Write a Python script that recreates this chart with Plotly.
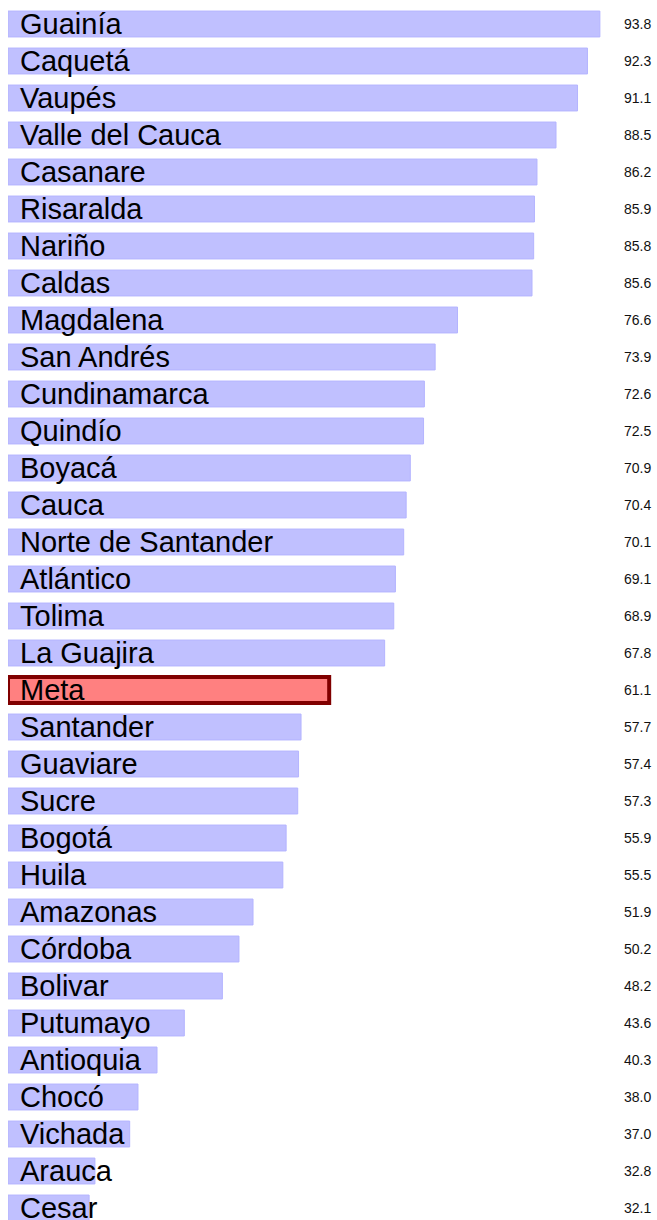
import plotly.graph_objects as go

departments = ["Guainía", "Caquetá", "Vaupés", "Valle del Cauca", "Casanare", "Risaralda",
               "Nariño", "Caldas", "Magdalena", "San Andrés", "Cundinamarca", "Quindío",
               "Boyacá", "Cauca", "Norte de Santander", "Atlántico", "Tolima", "La Guajira",
               "Meta", "Santander", "Guaviare", "Sucre", "Bogotá", "Huila", "Amazonas",
               "Córdoba", "Bolivar", "Putumayo", "Antioquia", "Chocó", "Vichada", "Arauca",
               "Cesar"]
values = [93.8, 92.3, 91.1, 88.5, 86.2, 85.9, 85.8, 85.6, 76.6, 73.9, 72.6, 72.5, 70.9,
          70.4, 70.1, 69.1, 68.9, 67.8, 61.1, 57.7, 57.4, 57.3, 55.9, 55.5, 51.9, 50.2,
          48.2, 43.6, 40.3, 38.0, 37.0, 32.8, 32.1]
highlight = "Meta"

AXIS_MIN = 22.3
AXIS_MAX = 100.7

fills = ["#ff8080" if d == highlight else "#c0c0ff" for d in departments]
lines = ["#800000" if d == highlight else "#b4b4ff" for d in departments]
lwidths = [4 if d == highlight else 1 for d in departments]

fig = go.Figure(go.Bar(
    y=departments,
    x=[v - AXIS_MIN for v in values],
    base=AXIS_MIN,
    orientation="h",
    width=0.7,
    marker=dict(color=fills, line=dict(color=lines, width=lwidths)),
    hoverinfo="skip",
))

annotations = []
for d, v in zip(departments, values):
    annotations.append(dict(
        x=0.016, xref="paper", y=d, yref="y", text=d, showarrow=False,
        xanchor="left", yanchor="middle",
        font=dict(family="Liberation Sans, Arial, sans-serif", size=29, color="black"),
    ))
    annotations.append(dict(
        x=0.9707, xref="paper", y=d, yref="y", text=f"{v:.1f}", showarrow=False,
        xanchor="center", yanchor="middle",
        font=dict(family="Liberation Sans, Arial, sans-serif", size=14, color="#111111"),
    ))

n = len(departments)
fig.update_layout(
    width=657, height=1220,
    margin=dict(l=8, r=0, t=8, b=0),
    paper_bgcolor="white", plot_bgcolor="white",
    showlegend=False,
    xaxis=dict(range=[AXIS_MIN, AXIS_MAX], visible=False, fixedrange=True),
    yaxis=dict(type="category", categoryorder="array", categoryarray=departments,
               range=[n - 1 + 0.324, -0.4324], visible=False, fixedrange=True),
    annotations=annotations,
)

fig.write_html("out.html", config={"displayModeBar": False},
               post_script="document.body.style.margin='0';document.body.style.overflow='hidden';")
